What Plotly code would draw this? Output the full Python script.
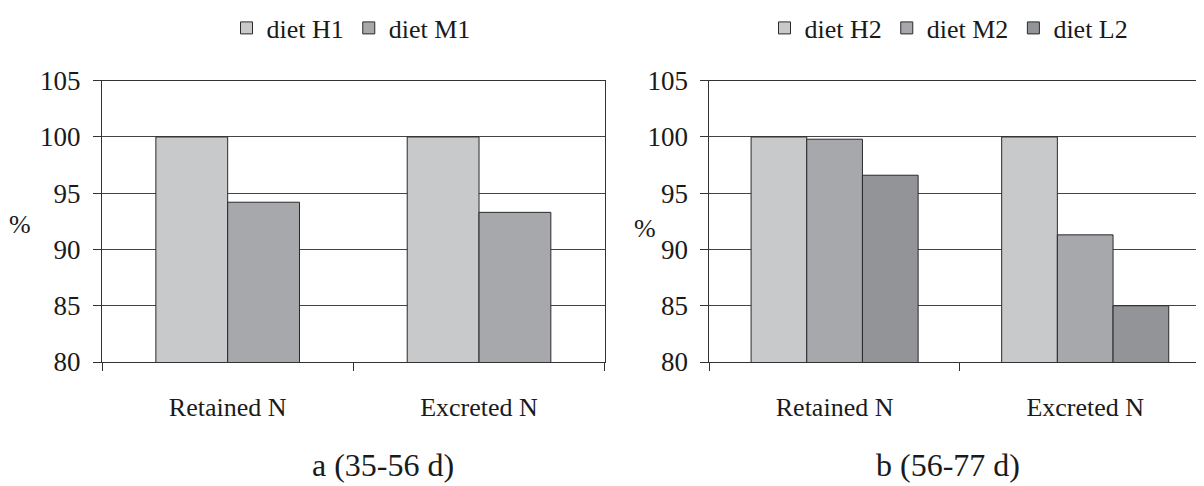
import plotly.graph_objects as go

categories = ["Retained N", "Excreted N"]
a_series = ["diet H1", "diet M1"]
a_values = [[100.0, 100.0], [94.2, 93.3]]
b_series = ["diet H2", "diet M2", "diet L2"]
b_values = [[100.0, 100.0], [99.8, 91.3], [96.6, 85.0]]
y_ticks = [80, 85, 90, 95, 100, 105]
panel_titles = ["a (35-56 d)", "b (56-77 d)"]

a_colors = ["#c8c9cb", "#a7a8ab"]
b_colors = ["#c8c9cb", "#a7a8ab", "#939497"]

FONT = "Liberation Serif"
TXT = "#1a1a1a"
# figure sized so that it fits the window after the page's 8px body margin
W, H = 1196, 478

fig = go.Figure()

# panel a
wa = 0.2857
for i, (name, vals) in enumerate(zip(a_series, a_values)):
    fig.add_trace(go.Bar(
        x=categories, y=vals, name=name,
        width=wa, offset=-wa + i * wa,
        marker=dict(color=a_colors[i], line=dict(color="#2a2a2a", width=1)),
        xaxis="x", yaxis="y", legend="legend",
    ))

# panel b
wb = 0.2222
for i, (name, vals) in enumerate(zip(b_series, b_values)):
    fig.add_trace(go.Bar(
        x=categories, y=vals, name=name,
        width=wb, offset=-1.5 * wb + i * wb,
        marker=dict(color=b_colors[i], line=dict(color="#2a2a2a", width=1)),
        xaxis="x2", yaxis="y2", legend="legend2",
    ))

top_px, bot_px = 72.7, 354.0
ydom = [1 - bot_px / H, 1 - top_px / H]

common_x = dict(
    type="category", tickson="boundaries", ticks="outside", ticklen=8,
    tickcolor="#333", showline=True, linecolor="#333", linewidth=1,
    showgrid=False, tickfont=dict(family=FONT, size=26, color=TXT),
    fixedrange=True,
)
common_y = dict(
    range=[80, 105], tickvals=y_ticks, ticks="outside", ticklen=8,
    tickcolor="#333", showline=True, linecolor="#333", linewidth=1,
    showgrid=True, gridcolor="#444", gridwidth=1, zeroline=False,
    tickfont=dict(family=FONT, size=27, color=TXT),
    ticklabelstandoff=7,
)

fig.update_layout(
    width=W, height=H,
    margin=dict(l=0, r=0, t=0, b=0, autoexpand=False),
    paper_bgcolor="white", plot_bgcolor="white",
    barmode="overlay",
    xaxis=dict(common_x, domain=[94 / W, 596.7 / W], range=[-0.5, 1.5],
               anchor="y", mirror=True, ticklabelstandoff=22),
    yaxis=dict(common_y, domain=ydom, anchor="x", mirror=True),
    xaxis2=dict(common_x, domain=[701.3 / W, 1.0], range=[-0.5, 1.474],
                anchor="y2", mirror=True, ticklabelstandoff=22),
    yaxis2=dict(common_y, domain=ydom, anchor="x2", mirror=False),
    legend=dict(orientation="h", x=343 / W, xanchor="center", y=1 - 20 / H,
                yanchor="middle", font=dict(family=FONT, size=26, color=TXT),
                bgcolor="rgba(0,0,0,0)", itemclick=False),
    legend2=dict(orientation="h", x=941 / W, xanchor="center", y=1 - 20 / H,
                 yanchor="middle", font=dict(family=FONT, size=26, color=TXT),
                 bgcolor="rgba(0,0,0,0)", itemclick=False),
    showlegend=True,
    annotations=[
        dict(text=panel_titles[0], x=375 / W, y=1 - 457 / H, xref="paper", yref="paper",
             xanchor="center", yanchor="middle", showarrow=False,
             font=dict(family=FONT, size=32, color=TXT)),
        dict(text=panel_titles[1], x=940 / W, y=1 - 457 / H, xref="paper", yref="paper",
             xanchor="center", yanchor="middle", showarrow=False,
             font=dict(family=FONT, size=32, color=TXT)),
        dict(text="%", x=12 / W, y=1 - 216 / H, xref="paper", yref="paper",
             xanchor="center", yanchor="middle", showarrow=False,
             font=dict(family=FONT, size=26, color=TXT)),
        dict(text="%", x=637 / W, y=1 - 220 / H, xref="paper", yref="paper",
             xanchor="center", yanchor="middle", showarrow=False,
             font=dict(family=FONT, size=26, color=TXT)),
    ],
)

fig.write_html("out.html")
